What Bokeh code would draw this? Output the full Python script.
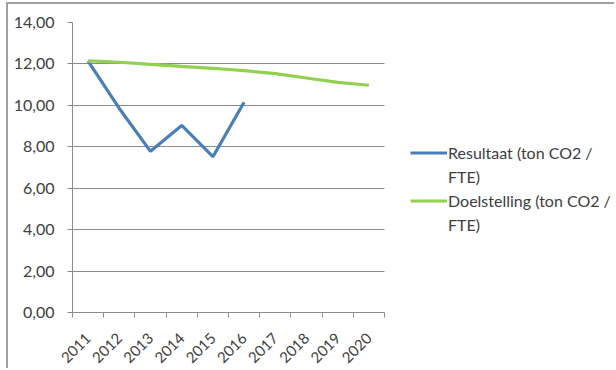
from math import pi
from bokeh.plotting import figure
from bokeh.models import Range1d, FixedTicker, Legend, LegendItem
from bokeh.core.properties import value
from bokeh.embed import file_html
from bokeh.resources import INLINE

years = [2011, 2012, 2013, 2014, 2015, 2016, 2017, 2018, 2019, 2020]
resultaat_years = [2011, 2012, 2013, 2014, 2015, 2016]
resultaat = [12.13, 9.85, 7.78, 9.03, 7.52, 10.15]
doelstelling = [12.15, 12.08, 11.98, 11.88, 11.79, 11.68, 11.53, 11.32, 11.11, 10.97]
y_ticks = [0, 2, 4, 6, 8, 10, 12, 14]
label_resultaat = ["Resultaat (ton CO2 /", "FTE)"]
label_doel = ["Doelstelling (ton CO2 /", "FTE)"]

FONT = "Lato"
GRID = "#8c8c8c"
TEXT = "#404040"

# category slots: 31.2 px each, frame extends under the legend area
x_start = years[0] - 0.5
x_end = years[-1] + 0.5
frame_px = 544
slot_px = 31.2

p = figure(width=608, height=366, output_backend="svg", toolbar_location=None,
           x_range=Range1d(x_start, x_start + frame_px / slot_px),
           y_range=Range1d(y_ticks[0], y_ticks[-1]),
           min_border_left=64, min_border_right=0,
           min_border_top=18, min_border_bottom=58)
p.styles = {"margin-left": "6px", "margin-top": "2px",
            "border-left": "2px solid #a0a0a0", "border-top": "2px solid #a0a0a0"}
p.outline_line_color = None
p.background_fill_color = "white"
p.border_fill_color = "white"

# horizontal gridlines limited to the category area
grid = p.ygrid[0]
if "cross_bounds" in grid.properties():
    grid.cross_bounds = (x_start, x_end)
    grid.grid_line_color = GRID
    grid.grid_line_width = 1
else:
    grid.visible = False
    p.segment(x0=[x_start] * len(y_ticks), x1=[x_end] * len(y_ticks),
              y0=y_ticks, y1=y_ticks, line_color=GRID, line_width=1)
p.xgrid.grid_line_color = None

r1 = p.line(resultaat_years, resultaat, line_color="#4a7ebb", line_width=3.2)
r2 = p.line(years, doelstelling, line_color="#92d050", line_width=3.2)

# x axis
p.xaxis.bounds = (x_start, x_end)
p.xaxis.ticker = FixedTicker(ticks=years, minor_ticks=[y - 0.5 for y in years] + [x_end])
p.xaxis.major_label_overrides = {y: str(y) for y in years}
p.xaxis.major_label_orientation = pi / 4
p.xaxis.major_tick_line_color = None
p.xaxis.minor_tick_in = 0
p.xaxis.minor_tick_out = 5
p.xaxis.minor_tick_line_color = GRID
p.xaxis.axis_line_color = GRID
p.xaxis.major_label_text_font = FONT
p.xaxis.major_label_text_font_size = "15px"
p.xaxis.major_label_text_color = TEXT
p.xaxis.major_label_standoff = 17

# y axis
p.yaxis.ticker = FixedTicker(ticks=y_ticks)
p.yaxis.major_label_overrides = {t: f"{t:.2f}".replace(".", ",") for t in y_ticks}
p.yaxis.major_tick_in = 0
p.yaxis.major_tick_out = 5
p.yaxis.minor_tick_line_color = None
p.yaxis.major_tick_line_color = GRID
p.yaxis.axis_line_color = GRID
p.yaxis.major_label_text_font = FONT
p.yaxis.major_label_text_font_size = "16px"
p.yaxis.major_label_text_color = TEXT
p.yaxis.major_label_standoff = 13

legend = Legend(items=[LegendItem(label=value(label_resultaat[0]), renderers=[r1]),
                       LegendItem(label=value(label_resultaat[1]), renderers=[]),
                       LegendItem(label=value(label_doel[0]), renderers=[r2]),
                       LegendItem(label=value(label_doel[1]), renderers=[])],
                location=(338, 78))
legend.border_line_color = None
legend.background_fill_alpha = 0
legend.padding = 0
legend.margin = 0
legend.spacing = 5
legend.glyph_width = 37
legend.glyph_height = 19
legend.label_height = 19
legend.label_standoff = 1
legend.label_text_font = FONT
legend.label_text_font_size = "16px"
legend.label_text_color = TEXT
p.add_layout(legend, "center")

open("out.html", "w").write(file_html(p, INLINE))
